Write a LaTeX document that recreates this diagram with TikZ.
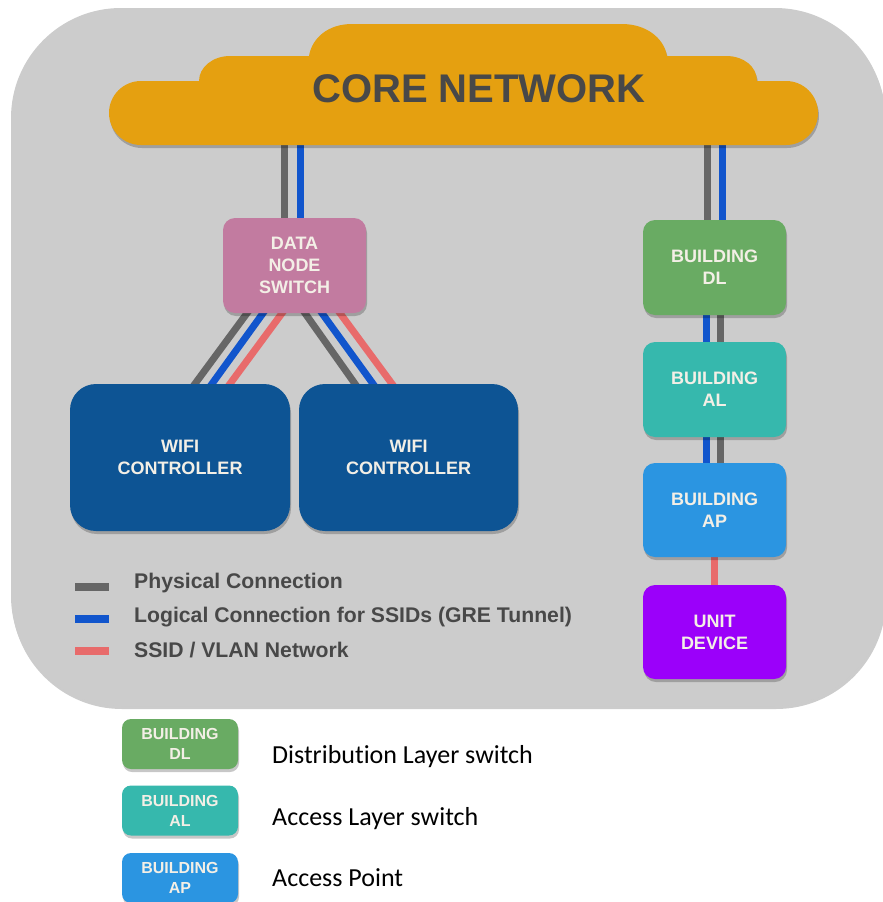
\documentclass[tikz,border=0pt]{standalone}
\usepackage{fontspec}
\setmainfont{Liberation Sans}
\newfontfamily\carl[Ligatures={NoCommon,NoRare,NoDiscretionary}]{Carlito}
\usetikzlibrary{calc,shadows}
\pgfdeclarelayer{bg}
\pgfdeclarelayer{lines}
\pgfsetlayers{bg,lines,main}
\definecolor{bgc}{HTML}{CCCCCC}
\definecolor{cloudc}{HTML}{E5A010}
\definecolor{darktxt}{HTML}{484848}
\definecolor{boxtxt}{HTML}{F3EFE6}
\definecolor{swc}{HTML}{C27BA0}
\definecolor{wific}{HTML}{0D5494}
\definecolor{dlc}{HTML}{69AB63}
\definecolor{alc}{HTML}{36B8AD}
\definecolor{apc}{HTML}{2B95E1}
\definecolor{unitc}{HTML}{9B00FA}
\definecolor{glc}{HTML}{666666}
\definecolor{blc}{HTML}{1155CC}
\definecolor{rlc}{HTML}{E86B6B}
\begin{document}
\begin{tikzpicture}[x=1pt,y=-1pt,
  sh/.style={drop shadow={shadow xshift=1pt,shadow yshift=-3pt,opacity=0.22,fill=black}},
  box/.style={sh,rounded corners=12pt,text=boxtxt,align=center,inner sep=0pt,
    font=\bfseries\fontsize{18}{22}\selectfont,minimum width=143pt,minimum height=95pt},
  wifibox/.style={box,fill=wific,rounded corners=26pt,minimum width=220pt,minimum height=147pt},
  legbox/.style={sh,rounded corners=9pt,text=boxtxt,align=center,inner sep=0pt,
    font=\bfseries\fontsize{16}{20}\selectfont,minimum width=116pt,minimum height=50pt},
  conn/.style={line width=7pt,shorten <=-4pt,shorten >=-4pt},
  gl/.style={conn,draw=glc},
  bl/.style={conn,draw=blc},
  rl/.style={conn,draw=rlc},
  legline/.style={line width=8pt},
  legtxt/.style={anchor=base west,inner sep=0pt,text=darktxt,font=\bfseries\fontsize{21.2}{25}\selectfont},
  desc/.style={anchor=base west,inner sep=0pt,text=black,font=\carl\fontsize{26}{30}\selectfont}
]
\useasboundingbox (0,0) rectangle (883,902);

% background panel
\begin{pgfonlayer}{bg}
\fill[black,opacity=0.2,rounded corners=110pt] (12,11) rectangle (886,709);
\fill[bgc,rounded corners=110pt] (11,8) rectangle (885,706);
\end{pgfonlayer}

% cloud
\fill[cloudc,sh]
  (141,145) .. controls (123.3,145) and (109,130.7) .. (109,113)
  .. controls (109,95.3) and (123.3,81) .. (141,81)
  -- (199,81) .. controls (199,67) and (213,56) .. (230,56)
  -- (309,56) .. controls (312,38) and (328,24) .. (352,24)
  -- (622,24) .. controls (646,24) and (664,38) .. (667,56)
  -- (726,56) .. controls (744,56) and (757,67) .. (757,81)
  -- (786,81) .. controls (803.7,81) and (818,95.3) .. (818,113)
  .. controls (818,130.7) and (803.7,145) .. (786,145) -- cycle;
\node[text=darktxt,font=\bfseries\fontsize{40}{44}\selectfont,inner sep=0pt] (core) at (479,89) {CORE NETWORK};
\coordinate (cL) at (294.5,140);
\coordinate (cR) at (714.5,140);

% nodes
\node[box,fill=swc] (sw) at (294.5,265.5) {DATA\\NODE\\SWITCH};
\node[wifibox] (wl) at (180,457.5) {WIFI\\CONTROLLER};
\node[wifibox,minimum width=219pt] (wr) at (408.5,457.5) {WIFI\\CONTROLLER};
\node[box,fill=dlc] (dl) at (714.5,267.5) {BUILDING\\DL};
\node[box,fill=alc] (al) at (714.5,389.5) {BUILDING\\AL};
\node[box,fill=apc,minimum height=94pt] (ap) at (714.5,510) {BUILDING\\AP};
\node[box,fill=unitc,minimum height=94pt] (ud) at (714.5,632) {UNIT\\DEVICE};

% connectors
\begin{pgfonlayer}{lines}
\draw[gl] ($(cL)+(-10.5,0)$) -- ($(sw.north)+(-10.5,0)$);
\draw[bl] ($(cL)+(5.5,0)$) -- ($(sw.north)+(5.5,0)$);
\draw[gl] ($(sw.south)+(-47.5,0)$) -- ($(wl.north)+(15,0)$);
\draw[bl] ($(sw.south)+(-31.5,0)$) -- ($(wl.north)+(32,0)$);
\draw[rl] ($(sw.south)+(-12.5,0)$) -- ($(wl.north)+(50,0)$);
\draw[gl] ($(sw.south)+(10.5,0)$) -- ($(wr.north)+(-53.5,0)$);
\draw[bl] ($(sw.south)+(27.5,0)$) -- ($(wr.north)+(-35.5,0)$);
\draw[rl] ($(sw.south)+(45.5,0)$) -- ($(wr.north)+(-16.5,0)$);
\draw[gl] ($(cR)+(-7.5,0)$) -- ($(dl.north)+(-7.5,0)$);
\draw[bl] ($(cR)+(7.5,0)$) -- ($(dl.north)+(7.5,0)$);
\draw[bl] ($(dl.south)+(-8,0)$) -- ($(al.north)+(-8,0)$);
\draw[gl] ($(dl.south)+(6,0)$) -- ($(al.north)+(6,0)$);
\draw[bl] ($(al.south)+(-8,0)$) -- ($(ap.north)+(-8,0)$);
\draw[gl] ($(al.south)+(6,0)$) -- ($(ap.north)+(6,0)$);
\draw[rl] (ap.south) -- (ud.north);
\end{pgfonlayer}

% legend of line types
\draw[legline,glc] (75,587) -- (109,587);
\draw[legline,blc] (75,619) -- (109,619);
\draw[legline,rlc] (75,651) -- (109,651);
\node[legtxt] (lt1) at (134,588) {Physical Connection};
\node[legtxt] (lt2) at (134,622) {Logical Connection for SSIDs (GRE Tunnel)};
\node[legtxt] (lt3) at (134,657) {SSID / VLAN Network};

% legend of boxes
\node[legbox,fill=dlc] (kdl) at (180,744) {BUILDING\\DL};
\node[legbox,fill=alc] (kal) at (180,810.5) {BUILDING\\AL};
\node[legbox,fill=apc] (kap) at (180,878) {BUILDING\\AP};
\node[desc] (d1) at (272,763) {Distribution Layer switch};
\node[desc] (d2) at (272,825) {Access Layer switch};
\node[desc] (d3) at (272,886) {Access Point};
\end{tikzpicture}
\end{document}
